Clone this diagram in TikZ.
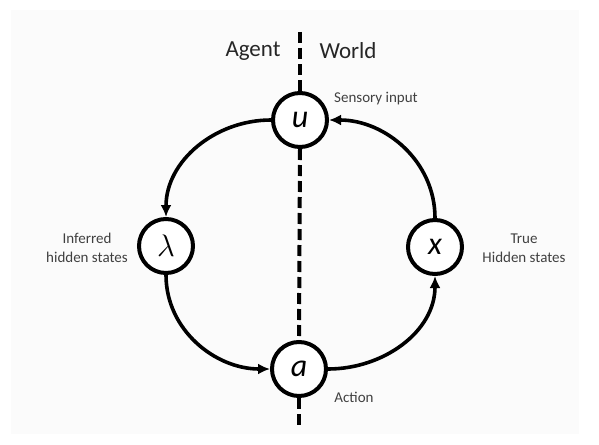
\documentclass[tikz,border=0pt]{standalone}
\usepackage{amsmath}
\usepackage{fontspec}
\setmainfont{Carlito}
\usetikzlibrary{arrows.meta}

\begin{document}
\begin{tikzpicture}[x=1pt, y=-1pt]
    \tikzstyle{var state}=[
        draw = black,
        line width = 4pt,
        fill = white,
        minimum size = 54pt,
        inner sep = 0pt,
        circle,
        font = \fontsize{32}{32}\selectfont\itshape
    ]
    \tikzstyle{side label}=[
        align = center,
        font = \fontsize{15}{19}\selectfont,
        text = black!75
    ]
    \tikzstyle{head label}=[
        font = \fontsize{23}{23}\selectfont,
        text = black!85
    ]
    \tikzstyle{loop arrow}=[
        line width = 3.6pt,
        -{Latex[length=12pt, width=11pt]}
    ]

    \useasboundingbox (0, 0) rectangle (599, 444);
    \fill[black!1.5] (11, 10) rectangle (579, 434);

	\node[var state]   (u) at (300, 120)    {u};
	\node[var state]   (l) at (166, 246)    {$\scalebox{1.25}{$\lambda$}$};
	\node[var state]   (x) at (435, 247)    {x};
	\node[var state]   (a) at (299, 369)    {a};

    \coordinate (top) at (300, 32);
    \coordinate (bot) at (299, 428);

    % agent / world border
	\path[line width=4pt, dash pattern=on 11pt off 5pt] (top) edge (u.north);
	\path[line width=4pt, dash pattern=on 11pt off 5pt] (u.south) edge (a.north);
	\path[line width=4pt, dash pattern=on 11pt off 5pt] (a.south) edge (bot);

	\node[head label]  (agent) at (253, 51)  {Agent};
	\node[head label]  (world) at (348, 51)  {World};

	\node[side label]  (sens)  at (376, 99)  {Sensory input};
	\node[side label]  (inf)   at (87, 248)  {Inferred\\hidden states};
	\node[side label]  (true)  at (524, 248) {True\\Hidden states};
	\node[side label]  (act)   at (354, 397) {Action};

	\path[loop arrow] (u.west)  edge [out=180, in=90]  (l.north);
	\path[loop arrow] (l.south) edge [out=-90, in=180] (a.west);
	\path[loop arrow] (a.east)  edge [out=0, in=-90]   (x.south);
	\path[loop arrow] (x.north) edge [out=90, in=0]    (u.east);

\end{tikzpicture}
\end{document}
